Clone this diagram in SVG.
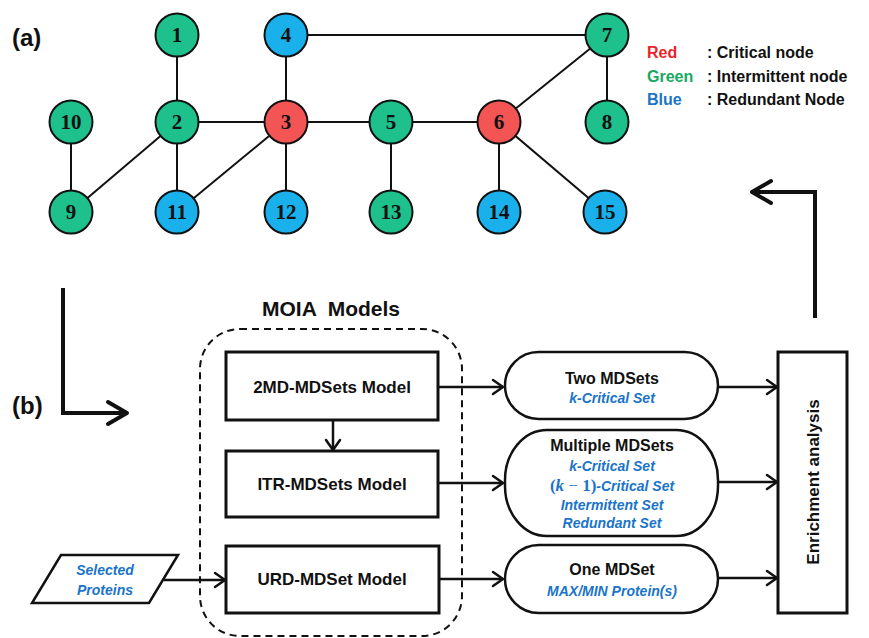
<svg xmlns="http://www.w3.org/2000/svg" width="869" height="638" viewBox="0 0 869 638">
<defs>
<style>
.edge{stroke:#111;stroke-width:2;fill:none}
.node circle{stroke:#111;stroke-width:2}
.g{fill:#1ec08b}.r{fill:#f25553}.b{fill:#19b0ec}
.nt{font-family:"Liberation Serif",serif;font-weight:bold;font-size:21px;fill:#111;text-anchor:middle}
.lab{font-family:"Liberation Sans",Arial,sans-serif;font-weight:bold;font-size:24px;fill:#111}
.leg{font-family:"Liberation Sans",Arial,sans-serif;font-weight:bold;font-size:16px}
.box{fill:#fff;stroke:#111;stroke-width:3}
.st{fill:#fff;stroke:#111;stroke-width:2.5}
.bt{font-family:"Liberation Sans",Arial,sans-serif;font-weight:bold;font-size:17px;fill:#111;text-anchor:middle}
.tt{font-family:"Liberation Sans",Arial,sans-serif;font-weight:bold;font-size:16px;fill:#111;text-anchor:middle}
.bl{font-family:"Liberation Sans",Arial,sans-serif;font-weight:bold;font-style:italic;font-size:14px;fill:#1a74c8;text-anchor:middle}
.arr{stroke:#111;stroke-width:2.5;fill:none;marker-end:url(#ah)}
.big{stroke:#111;stroke-width:4;fill:none;stroke-linejoin:miter;marker-end:url(#bh)}
</style>
<marker id="ah" markerUnits="userSpaceOnUse" viewBox="-14 -10 16 20" refX="0" refY="0" markerWidth="16" markerHeight="20" orient="auto" overflow="visible">
<path d="M-10,-7 L0,0 L-10,7" fill="none" stroke="#111" stroke-width="2.5" stroke-linecap="round" stroke-linejoin="round"/>
</marker>
<marker id="bh" markerUnits="userSpaceOnUse" viewBox="-24 -14 28 28" refX="0" refY="0" markerWidth="28" markerHeight="28" orient="auto" overflow="visible">
<path d="M-19,-11 L0,0 L-19,11" fill="none" stroke="#111" stroke-width="4" stroke-linecap="round" stroke-linejoin="round"/>
</marker>
</defs>
<rect width="869" height="638" fill="#fff"/>

<text class="lab" x="12" y="46">(a)</text>
<text class="lab" x="12" y="414">(b)</text>

<g id="legend" class="leg">
<text x="647" y="58" fill="#e8262b">Red</text>
<text x="707" y="58" fill="#111">: Critical node</text>
<text x="647" y="82" fill="#17a862">Green</text>
<text x="707" y="82" fill="#111">: Intermittent node</text>
<text x="647" y="105" fill="#1a74c8">Blue</text>
<text x="707" y="105" fill="#111">: Redundant Node</text>
</g>

<g id="connectors">
<line class="edge" x1="177" y1="35" x2="177" y2="122"/>
<line class="edge" x1="177" y1="122" x2="286" y2="122"/>
<line class="edge" x1="286" y1="35" x2="286" y2="122"/>
<line class="edge" x1="286" y1="35" x2="607" y2="35"/>
<line class="edge" x1="286" y1="122" x2="391" y2="122"/>
<line class="edge" x1="391" y1="122" x2="499" y2="122"/>
<line class="edge" x1="499" y1="122" x2="607" y2="35"/>
<line class="edge" x1="607" y1="35" x2="607" y2="122"/>
<line class="edge" x1="71" y1="122" x2="71" y2="212"/>
<line class="edge" x1="177" y1="122" x2="71" y2="212"/>
<line class="edge" x1="177" y1="122" x2="177" y2="212"/>
<line class="edge" x1="286" y1="122" x2="177" y2="212"/>
<line class="edge" x1="286" y1="122" x2="286" y2="212"/>
<line class="edge" x1="391" y1="122" x2="391" y2="212"/>
<line class="edge" x1="499" y1="122" x2="499" y2="212"/>
<line class="edge" x1="499" y1="122" x2="605" y2="212"/>

<path class="big" d="M815,318 L815,192 L752,192"/>
<path class="big" d="M63,288 L63,413 L127,413"/>

<line class="arr" x1="333" y1="420" x2="333" y2="450"/>
<line class="arr" x1="164" y1="580" x2="225" y2="580"/>
<line class="arr" x1="438" y1="387" x2="503" y2="387"/>
<line class="arr" x1="438" y1="483" x2="503" y2="483"/>
<line class="arr" x1="439" y1="579" x2="503" y2="579"/>
<line class="arr" x1="718" y1="387" x2="777" y2="387"/>
<line class="arr" x1="718" y1="482" x2="777" y2="482"/>
<line class="arr" x1="718" y1="578" x2="777" y2="578"/>
</g>

<g id="n1" class="node"><circle class="g" cx="177" cy="35" r="21.5"/><text class="nt" x="177" y="42">1</text></g>
<g id="n2" class="node"><circle class="g" cx="177" cy="122" r="21.5"/><text class="nt" x="177" y="129">2</text></g>
<g id="n3" class="node"><circle class="r" cx="286" cy="122" r="21.5"/><text class="nt" x="286" y="129">3</text></g>
<g id="n4" class="node"><circle class="b" cx="286" cy="35" r="21.5"/><text class="nt" x="286" y="42">4</text></g>
<g id="n5" class="node"><circle class="g" cx="391" cy="122" r="21.5"/><text class="nt" x="391" y="129">5</text></g>
<g id="n6" class="node"><circle class="r" cx="499" cy="122" r="21.5"/><text class="nt" x="499" y="129">6</text></g>
<g id="n7" class="node"><circle class="g" cx="607" cy="35" r="21.5"/><text class="nt" x="607" y="42">7</text></g>
<g id="n8" class="node"><circle class="g" cx="607" cy="122" r="21.5"/><text class="nt" x="607" y="129">8</text></g>
<g id="n9" class="node"><circle class="g" cx="71" cy="212" r="21.5"/><text class="nt" x="71" y="219">9</text></g>
<g id="n10" class="node"><circle class="g" cx="71" cy="122" r="21.5"/><text class="nt" x="71" y="129">10</text></g>
<g id="n11" class="node"><circle class="b" cx="177" cy="212" r="21.5"/><text class="nt" x="177" y="219">11</text></g>
<g id="n12" class="node"><circle class="b" cx="286" cy="212" r="21.5"/><text class="nt" x="286" y="219">12</text></g>
<g id="n13" class="node"><circle class="g" cx="391" cy="212" r="21.5"/><text class="nt" x="391" y="219">13</text></g>
<g id="n14" class="node"><circle class="b" cx="499" cy="212" r="21.5"/><text class="nt" x="499" y="219">14</text></g>
<g id="n15" class="node"><circle class="b" cx="605" cy="212" r="21.5"/><text class="nt" x="605" y="219">15</text></g>

<g id="moia">
<rect x="200" y="329" width="262" height="307" rx="40" ry="40" fill="none" stroke="#111" stroke-width="2" stroke-dasharray="7,5"/>
<text x="331" y="316" xml:space="preserve" font-family="'Liberation Sans',Arial,sans-serif" font-weight="bold" font-size="21" fill="#111" text-anchor="middle">MOIA  Models</text>
</g>

<g id="m2md"><rect class="box" x="226" y="352" width="212" height="68"/><text class="bt" x="332" y="393">2MD-MDSets Model</text></g>
<g id="mitr"><rect class="box" x="226" y="451" width="212" height="66"/><text class="bt" x="332" y="490">ITR-MDSets Model</text></g>
<g id="murd"><rect class="box" x="226" y="546" width="213" height="67"/><text class="bt" x="332" y="585">URD-MDSet Model</text></g>

<g id="selected">
<polygon points="61,555 178,555 149,603 32,603" fill="#fff" stroke="#111" stroke-width="2.5"/>
<text class="bl" x="105" y="575">Selected</text>
<text class="bl" x="105" y="595">Proteins</text>
</g>

<g id="two">
<rect class="st" x="505" y="352" width="213" height="67" rx="33.5" ry="33.5"/>
<text class="tt" x="612" y="384">Two MDSets</text>
<text class="bl" x="612" y="403">k-Critical Set</text>
</g>
<g id="multi">
<rect class="st" x="505" y="430" width="213" height="106" rx="42" ry="50"/>
<text class="tt" x="612" y="451">Multiple MDSets</text>
<text class="bl" x="612" y="471">k-Critical Set</text>
<text class="bl" x="612" y="491"><tspan font-family="'Liberation Serif',serif" font-style="normal" font-size="17">(</tspan><tspan font-family="'Liberation Serif',serif" font-size="17">k</tspan><tspan font-family="'Liberation Serif',serif" font-style="normal" font-weight="normal" font-size="17"> − </tspan><tspan font-family="'Liberation Serif',serif" font-style="normal" font-size="17">1)</tspan>-Critical Set</text>
<text class="bl" x="612" y="510">Intermittent Set</text>
<text class="bl" x="612" y="528">Redundant Set</text>
</g>
<g id="one">
<rect class="st" x="505" y="545" width="213" height="68" rx="34" ry="34"/>
<text class="tt" x="612" y="575">One MDSet</text>
<text class="bl" x="612" y="596">MAX/MIN Protein(s)</text>
</g>

<g id="enrich">
<rect class="box" x="778" y="352" width="69" height="261"/>
<text class="bt" font-size="18" transform="translate(819,482) rotate(-90)" x="0" y="0">Enrichment analysis</text>
</g>
</svg>
